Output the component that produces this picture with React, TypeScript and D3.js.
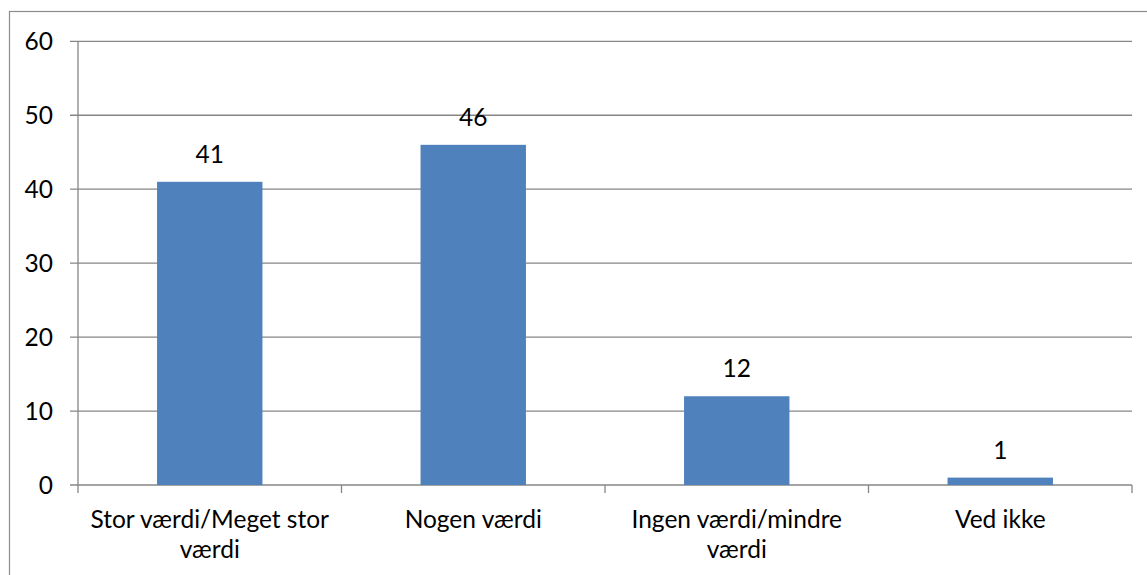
import React, { useEffect, useRef } from "react";
import * as d3 from "d3";

const categories = [
  "Stor værdi/Meget stor værdi",
  "Nogen værdi",
  "Ingen værdi/mindre værdi",
  "Ved ikke",
];
const values = [41, 46, 12, 1];
const yTicks = [0, 10, 20, 30, 40, 50, 60];

const W = 1147;
const H = 575;
const FONT = "Lato, 'Open Sans', sans-serif";
const FS = 24.5;

export default function App() {
  const ref = useRef<SVGSVGElement | null>(null);

  useEffect(() => {
    const svg = d3.select(ref.current);
    svg.selectAll("*").remove();

    const left = 78,
      right = 1132,
      top = 41.3,
      bottom = 485;

    const x = d3
      .scaleBand<string>()
      .domain(categories)
      .range([left, right])
      .paddingInner(0.6)
      .paddingOuter(0.3);
    const y = d3.scaleLinear().domain([0, 60]).range([bottom, top]);
    const grid = "#868686";

    svg
      .append("rect")
      .attr("x", 9.5)
      .attr("y", 11.5)
      .attr("width", 1300)
      .attr("height", 800)
      .attr("fill", "white")
      .attr("stroke", "#8c8c8c")
      .attr("stroke-width", 1.2);

    svg
      .selectAll("line.grid")
      .data(yTicks)
      .enter()
      .append("line")
      .attr("x1", left - 8)
      .attr("x2", right)
      .attr("y1", (d) => y(d))
      .attr("y2", (d) => y(d))
      .attr("stroke", grid)
      .attr("stroke-width", 1.3);

    svg
      .append("line")
      .attr("x1", left)
      .attr("x2", left)
      .attr("y1", top)
      .attr("y2", bottom + 8)
      .attr("stroke", grid)
      .attr("stroke-width", 1.3);

    const bounds = d3
      .range(categories.length + 1)
      .map((i) => left + (i * (right - left)) / categories.length);
    svg
      .selectAll("line.xt")
      .data(bounds.slice(1))
      .enter()
      .append("line")
      .attr("x1", (d) => d)
      .attr("x2", (d) => d)
      .attr("y1", bottom)
      .attr("y2", bottom + 8)
      .attr("stroke", grid)
      .attr("stroke-width", 1.3);

    svg
      .selectAll("text.yl")
      .data(yTicks)
      .enter()
      .append("text")
      .attr("x", 53)
      .attr("y", (d) => y(d))
      .attr("dy", "0.36em")
      .attr("text-anchor", "end")
      .attr("font-family", FONT)
      .attr("font-size", FS)
      .attr("fill", "#000")
      .text((d) => String(d));

    svg
      .selectAll("rect.bar")
      .data(values)
      .enter()
      .append("rect")
      .attr("x", (_, i) => x(categories[i])!)
      .attr("width", x.bandwidth())
      .attr("y", (d) => y(d))
      .attr("height", (d) => bottom - y(d))
      .attr("fill", "#4F81BD");

    svg
      .selectAll("text.vl")
      .data(values)
      .enter()
      .append("text")
      .attr("x", (_, i) => x(categories[i])! + x.bandwidth() / 2)
      .attr("y", (d) => y(d) - 19)
      .attr("text-anchor", "middle")
      .attr("font-family", FONT)
      .attr("font-size", FS)
      .attr("fill", "#000")
      .text((d) => String(d));

    const maxW = 262;
    categories.forEach((c) => {
      const cx = x(c)! + x.bandwidth() / 2;
      const t = svg
        .append("text")
        .attr("text-anchor", "middle")
        .attr("font-family", FONT)
        .attr("font-size", FS)
        .attr("fill", "#000");
      const words = c.split(" ");
      const lines: string[] = [];
      let cur = "";
      const probe = t.append("tspan");
      words.forEach((w) => {
        const test = cur ? cur + " " + w : w;
        probe.text(test);
        const len = (probe.node() as SVGTSpanElement).getComputedTextLength();
        if (len > maxW && cur) {
          lines.push(cur);
          cur = w;
        } else cur = test;
      });
      if (cur) lines.push(cur);
      probe.remove();
      lines.forEach((ln, i) => {
        t.append("tspan")
          .attr("x", cx)
          .attr("y", 528 + i * 30)
          .text(ln);
      });
    });
  }, []);

  return (
    <svg
      ref={ref}
      width={W}
      height={H}
      style={{ position: "absolute", left: 0, top: 0, background: "white" }}
    />
  );
}
